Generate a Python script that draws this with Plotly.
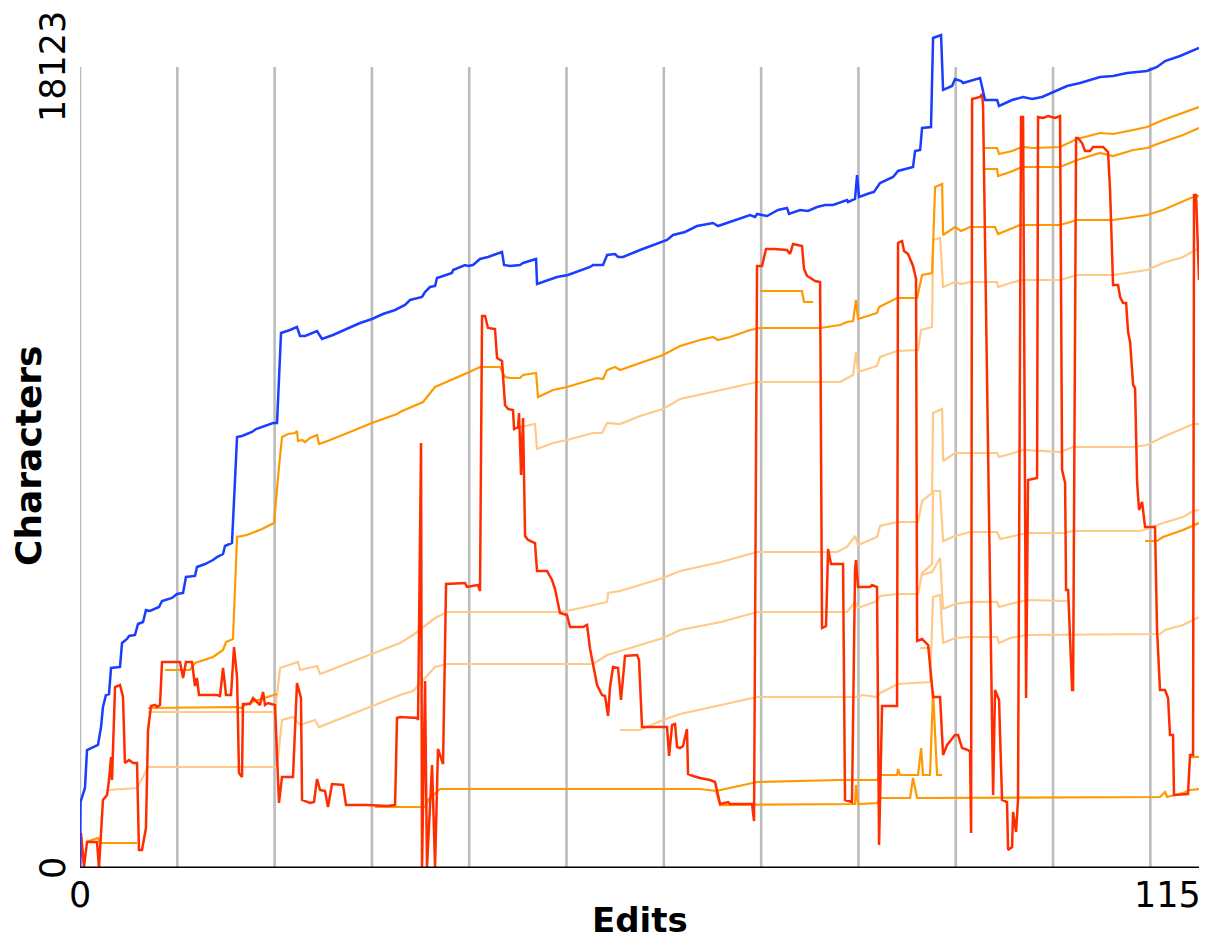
import plotly.graph_objects as go

# ---- data: (edit number, characters) ----
total_chars = [
    (0, 0), (0.05, 1493), (0.51, 1810), (0.72, 2670), (1.85, 2783), (2.16, 3190), (2.36, 3643),
    (2.67, 3914), (2.98, 3937), (3.19, 4525), (4.11, 4548), (4.32, 5091), (4.83, 5181), (5.04, 5249),
    (5.65, 5272), (5.96, 5521), (6.48, 5566), (6.78, 5837), (7.19, 5815), (8.12, 5905), (8.43, 6041),
    (9.46, 6109), (9.97, 6199), (10.59, 6222), (10.89, 6584), (11.82, 6607), (12.02, 6810), (12.85, 6878),
    (13.67, 6968), (14.08, 7036), (14.70, 7104), (14.90, 7285), (15.62, 7353), (16.14, 9751), (16.65, 9774),
    (17.68, 9865), (18.09, 9932), (19.01, 10000), (19.84, 10068), (20.25, 10068), (20.66, 12104),
    (21.58, 12172), (22.30, 12240), (22.61, 12037), (23.13, 12037), (24.36, 12150), (24.87, 11969),
    (26.00, 12059), (27.44, 12195), (28.78, 12330), (30.01, 12421), (31.14, 12534), (32.38, 12625),
    (33.40, 12738), (33.92, 12851), (35.15, 12919), (35.46, 13032), (35.97, 13145), (36.49, 13168),
    (36.69, 13349), (37.31, 13394), (38.23, 13462), (38.34, 13530), (39.57, 13643), (39.88, 13621),
    (40.39, 13643), (41.11, 13779), (41.93, 13824), (43.37, 13937), (43.58, 13643), (44.20, 13621),
    (45.22, 13643), (45.53, 13688), (46.87, 13779), (46.97, 13213), (47.59, 13258), (49.03, 13371),
    (50.15, 13417), (51.60, 13530), (52.42, 13598), (52.73, 13643), (53.75, 13643), (54.17, 13869),
    (54.99, 13892), (55.30, 13824), (55.81, 13824), (57.56, 13982), (59.61, 14141), (60.33, 14209),
    (60.95, 14322), (62.18, 14390), (63.41, 14525), (65.06, 14593), (65.57, 14525), (66.81, 14616),
    (67.63, 14684), (68.86, 14774), (69.37, 14729), (69.58, 14797), (70.61, 14752), (71.74, 14887),
    (72.66, 14933), (72.87, 14797), (74.00, 14887), (74.82, 14865), (75.75, 14955), (76.57, 15000),
    (77.39, 15000), (78.83, 15114), (78.93, 15068), (79.65, 15137), (79.86, 15679), (80.06, 15182),
    (81.19, 15272), (81.60, 15295), (82.22, 15498), (83.56, 15634), (84.07, 15770), (85.00, 15815),
    (85.61, 15860), (85.82, 16223), (86.34, 16245), (86.54, 16743), (87.46, 16765), (87.67, 18779),
    (88.49, 18846), (88.70, 17603), (89.62, 17693), (89.93, 17851), (90.55, 17806), (90.75, 17761),
    (91.68, 17829), (92.50, 17874), (93.01, 17376), (94.25, 17376), (94.45, 17240), (95.79, 17376),
    (96.92, 17444), (97.85, 17398), (98.87, 17444), (100.00, 17557), (101.44, 17693), (102.78, 17761),
    (104.83, 17896), (106.17, 17919), (107.61, 17987), (109.66, 18032), (110.69, 18123), (111.51, 18258),
    (113.05, 18372), (115.00, 18553),
]

main_author = [
    (0, 0), (0.10, 792), (0.41, 23), (0.72, 588), (1.75, 588), (1.95, 0), (2.36, 1539), (2.78, 1652),
    (2.98, 1991), (3.19, 2511), (3.29, 1991), (3.60, 4095), (4.11, 4140), (4.42, 3869), (4.62, 2376),
    (5.04, 2444), (5.45, 2376), (5.86, 2376), (6.06, 407), (6.37, 407), (6.78, 905), (6.99, 3122),
    (7.30, 3665), (7.71, 3688), (7.91, 3643), (8.22, 3688), (8.43, 4661), (10.28, 4661), (10.59, 4299),
    (10.89, 4661), (11.51, 4661), (11.82, 4118), (12.02, 4299), (12.23, 3914), (14.08, 3914),
    (14.39, 3892), (14.70, 4525), (15.01, 3914), (15.52, 3914), (15.83, 5000), (16.14, 4321),
    (16.34, 2149), (16.65, 2059), (16.75, 3711), (17.47, 3711), (17.78, 3846), (18.50, 3688),
    (18.81, 3982), (19.01, 3688), (19.32, 3733), (20.04, 3688), (20.35, 2149), (20.45, 1471),
    (20.76, 2059), (21.89, 2059), (22.30, 4186), (22.71, 3846), (22.82, 1539), (23.64, 1471),
    (24.05, 1493), (24.36, 2014), (24.67, 1765), (25.18, 1742), (25.49, 1380), (25.90, 1901),
    (27.03, 1878), (27.34, 1425), (29.50, 1425), (31.55, 1403), (32.38, 1425), (32.58, 3394),
    (32.89, 3416), (34.64, 3394), (34.74, 3349), (35.05, 9616), (35.15, 23), (35.46, 4231), (35.66, 23),
    (36.18, 2330), (36.49, 23), (36.79, 2692), (37.31, 2353), (37.62, 6426), (39.57, 6448), (39.78, 6358),
    (40.91, 6403), (41.11, 6267), (41.32, 12489), (41.63, 12489), (41.93, 12218), (42.65, 12195),
    (42.86, 11539), (43.37, 11471), (43.68, 10475), (43.99, 10385), (44.50, 10362), (44.61, 9932),
    (45.02, 9978), (45.12, 10294), (45.33, 8892), (45.53, 10181), (45.74, 7512), (46.05, 7421),
    (46.76, 7353), (46.97, 6720), (48.00, 6720), (48.51, 6516), (48.82, 6312), (49.33, 5769),
    (50.05, 5724), (50.36, 5453), (51.70, 5453), (52.11, 5498), (52.42, 4955), (52.73, 4616),
    (53.14, 4140), (53.65, 3914), (53.96, 3892), (54.27, 3439), (54.47, 4095), (54.78, 4548),
    (55.30, 4525), (55.60, 3801), (56.01, 4797), (57.25, 4819), (57.45, 4706), (57.76, 3190),
    (60.33, 3190), (60.54, 2534), (60.85, 3235), (61.15, 3258), (61.36, 2738), (61.67, 2715),
    (61.97, 2760), (62.38, 3145), (62.49, 2127), (63.00, 2082), (63.72, 2036), (64.75, 1991),
    (65.26, 1946), (65.57, 1652), (65.78, 1448), (66.60, 1493), (66.81, 1448), (69.07, 1448),
    (69.27, 1063), (69.58, 13621), (70.09, 13621), (70.50, 14005), (71.43, 14005), (72.66, 13982),
    (72.97, 13892), (73.28, 14118), (74.20, 14073), (74.41, 13552), (74.72, 13394), (75.23, 13326),
    (75.54, 13281), (76.06, 13258), (76.26, 5430), (76.67, 5475), (76.88, 7218), (77.18, 6878),
    (78.42, 6878), (78.62, 1539), (79.34, 1493), (79.65, 6742), (79.75, 6968), (79.96, 6358),
    (81.19, 6358), (81.40, 6403), (81.91, 6358), (82.12, 520), (82.43, 3665), (83.97, 3665),
    (84.07, 14141), (84.48, 14186), (84.69, 13960), (85.10, 13892), (85.61, 13621), (85.92, 13326),
    (86.03, 5136), (86.54, 5181), (87.16, 5046), (87.67, 3869), (88.39, 3869), (88.70, 2557),
    (89.11, 2783), (89.93, 3009), (90.24, 3009), (90.65, 2715), (91.27, 2670), (91.47, 2625),
    (91.58, 792), (91.68, 17398), (92.50, 17444), (92.71, 17512), (92.81, 17218), (93.84, 1652),
    (94.04, 4027), (94.45, 3801), (94.76, 1539), (95.27, 1493), (95.38, 407), (95.79, 475),
    (95.89, 1267), (96.20, 815), (96.40, 1539), (96.71, 16991), (96.92, 16991), (97.23, 3846),
    (97.43, 8779), (98.36, 8824), (98.46, 16991), (98.98, 16969), (99.49, 17014), (100.21, 16969),
    (100.72, 17014), (100.93, 9005), (101.24, 8711), (101.34, 6290), (101.55, 6290), (101.96, 4027),
    (102.06, 4027), (102.37, 16516), (102.57, 16516), (102.98, 16403), (103.29, 16223), (103.80, 16223),
    (104.11, 16313), (105.14, 16313), (105.65, 16200), (105.86, 15340), (106.17, 13190), (106.68, 13190),
    (106.89, 12919), (107.20, 12783), (107.51, 12783), (107.71, 12127), (107.92, 11901), (108.23, 10928),
    (108.43, 10860), (108.64, 8733), (108.84, 8100), (109.15, 8281), (109.46, 7715), (110.48, 7715),
    (110.69, 5385), (110.99, 4027), (111.51, 4027), (111.82, 3846), (112.02, 3009), (112.33, 3009),
    (112.43, 1652), (113.87, 1674), (114.08, 2557), (114.39, 2557), (114.49, 15227), (114.70, 15227),
    (115.00, 13304),
]

# dark orange section boundaries
sect_a = [(0.62, 588), (1.85, 679), (2.06, 566), (5.86, 566)]
sect_b = [(6.99, 3620), (16.14, 3643), (16.55, 3620), (16.96, 3688), (18.29, 3801), (20.25, 3937)]
sect_c = [
    (8.74, 4480), (11.31, 4480), (11.82, 4638), (13.67, 4774), (14.70, 4932), (15.01, 5113), (15.72, 5181),
    (16.14, 7489), (17.16, 7534), (18.71, 7670), (19.94, 7806), (20.25, 8711), (20.45, 9073), (20.76, 9751),
    (21.38, 9820), (22.10, 9842), (22.30, 9887), (22.40, 9661), (22.82, 9684), (23.13, 9638), (23.64, 9729),
    (24.36, 9797), (24.56, 9593), (25.70, 9684), (27.44, 9842), (28.78, 9955), (30.01, 10068),
    (31.14, 10159), (32.58, 10272), (32.89, 10317), (35.25, 10543), (36.49, 10883), (37.72, 10996),
    (39.78, 11199), (41.11, 11335), (43.17, 11335), (43.68, 11109), (44.20, 11086), (45.22, 11086),
    (45.53, 11154), (46.87, 11199), (47.07, 10656), (48.61, 10815), (50.05, 10883), (53.14, 11086),
    (53.75, 11064), (54.17, 11267), (54.99, 11335), (55.50, 11267), (57.56, 11426), (59.92, 11607),
    (61.67, 11810), (63.72, 11946), (65.06, 12014), (65.57, 11946), (66.81, 12014), (68.86, 12173),
    (69.89, 12218), (76.06, 12218), (78.11, 12285), (78.83, 12353), (79.45, 12376), (79.75, 12851),
    (79.96, 12421), (81.91, 12557), (82.12, 12693), (83.97, 12896), (86.03, 12896), (86.54, 13417),
    (87.57, 13462), (87.88, 15408), (88.60, 15476), (88.70, 14322), (89.93, 14503), (90.55, 14412),
    (91.47, 14503), (94.04, 14503), (94.35, 14344), (95.59, 14457), (96.61, 14548), (100.72, 14548),
    (102.47, 14661), (106.17, 14661), (107.61, 14706), (109.66, 14774), (111.30, 14888), (114.39, 15182),
    (115.00, 15204),
]
sect_d = [
    (93.01, 16290), (94.25, 16290), (94.45, 16155), (95.79, 16223), (96.82, 16313), (97.95, 16290),
    (100.72, 16313), (102.47, 16494), (104.83, 16629), (106.17, 16607), (108.23, 16697), (109.66, 16765),
    (111.30, 16924), (113.36, 17082), (115.00, 17218),
]
sect_e = [
    (93.01, 15815), (94.25, 15815), (94.35, 15656), (95.59, 15747), (96.82, 15860), (100.72, 15860),
    (102.47, 16019), (104.83, 16177), (106.17, 16109), (108.23, 16245), (109.66, 16290), (110.99, 16403),
    (113.36, 16584), (115.00, 16743),
]
sect_f = [
    (30.32, 1380), (35.46, 1380), (35.77, 1539), (37.00, 1787), (63.72, 1787), (65.37, 1742),
    (69.58, 1946), (78.11, 1991), (81.91, 1991), (82.22, 2104), (83.97, 2104), (84.07, 2240),
    (84.27, 2104), (86.13, 2104), (86.44, 2715), (86.64, 2104), (87.36, 2104), (87.67, 4005),
    (88.08, 2104), (88.60, 2104),
]
sect_g = [
    (65.37, 1742), (65.78, 1425), (79.65, 1448), (79.75, 1878), (79.96, 1448), (81.91, 1471),
    (82.22, 1584), (85.31, 1584), (85.61, 2036), (86.03, 1584), (110.99, 1606), (111.51, 1720),
    (111.72, 1606), (113.36, 1697), (114.08, 1765), (115.00, 1787),
]
sect_h = [(114.08, 2511), (115.00, 2511)]
sect_i = [(109.46, 7398), (110.69, 7398), (111.30, 7489), (113.36, 7647), (115.00, 7806)]
sect_j = [(69.89, 13055), (74.20, 13055), (74.41, 12806), (75.34, 12806)]

# light orange section boundaries
para_a = [
    (44.71, 9955), (46.76, 10045), (46.97, 9480), (48.61, 9616), (50.05, 9684), (52.73, 9842),
    (53.65, 9842), (54.17, 10068), (55.50, 10045), (57.56, 10226), (59.92, 10385), (61.67, 10611),
    (65.88, 10815), (69.58, 10996), (78.11, 10996), (79.45, 11154), (79.75, 11675), (79.96, 11222),
    (81.91, 11358), (82.22, 11562), (83.97, 11697), (86.13, 11720), (86.44, 12173), (87.57, 12240),
    (87.67, 14209), (88.39, 14254), (88.70, 13145), (89.62, 13236), (89.93, 13258), (90.55, 13213),
    (91.47, 13258), (94.25, 13258), (94.35, 13145), (95.59, 13236), (96.82, 13304), (100.72, 13304),
    (102.47, 13417), (106.17, 13417), (108.23, 13485), (109.66, 13530), (111.30, 13688), (113.36, 13824),
    (115.00, 14028),
]
para_b = [
    (6.99, 3530), (20.04, 3530), (20.56, 4525), (22.40, 4661), (22.61, 4480), (24.36, 4570),
    (24.67, 4389), (32.89, 5091), (34.23, 5272), (36.49, 5656), (37.72, 5792), (49.03, 5792),
    (50.05, 5815), (52.73, 5950), (54.17, 6019), (54.27, 6222), (55.50, 6267), (59.92, 6561),
    (61.67, 6720), (65.88, 6923), (69.58, 7150), (77.80, 7150), (78.83, 7263), (79.65, 7512),
    (79.96, 7308), (81.91, 7489), (82.22, 7738), (83.97, 7828), (86.13, 7828), (86.54, 8304),
    (87.57, 8484), (87.67, 10294), (88.60, 10385), (88.70, 9209), (89.93, 9389), (94.25, 9389),
    (94.45, 9299), (95.59, 9367), (96.92, 9458), (100.72, 9412), (102.06, 9525), (108.23, 9525),
    (109.66, 9570), (111.30, 9751), (114.39, 10045), (115.00, 10045),
]
para_c = [
    (2.88, 1765), (5.86, 1810), (6.17, 1946), (6.48, 2059), (6.99, 2285), (20.25, 2285), (20.76, 3349),
    (21.89, 3416), (22.61, 3235), (24.15, 3349), (24.56, 3190), (32.89, 3914), (34.23, 4005),
    (36.49, 4548), (37.72, 4616), (52.73, 4616), (54.17, 4819), (55.50, 4910), (59.92, 5204),
    (61.67, 5385), (65.88, 5566), (69.58, 5792), (78.83, 5792), (79.65, 6019), (79.96, 5883),
    (81.91, 6041), (82.22, 6154), (83.97, 6199), (86.13, 6199), (86.54, 6674), (87.57, 6878),
    (87.67, 8530), (88.39, 8530), (88.70, 7398), (89.93, 7512), (91.47, 7602), (94.25, 7602),
    (94.56, 7444), (95.59, 7489), (97.33, 7579), (101.03, 7579), (102.06, 7625), (108.95, 7625),
    (109.66, 7670), (111.30, 7806), (113.36, 7941), (114.39, 8077), (115.00, 8100),
]
para_d = [
    (55.50, 3122), (57.56, 3122), (59.92, 3349), (61.67, 3484), (65.88, 3688), (69.58, 3869),
    (79.86, 3869), (80.47, 3914), (81.91, 3869), (82.22, 3959), (83.25, 4073), (83.97, 4163),
    (87.36, 4208), (87.67, 6131), (88.39, 6177), (88.70, 5091), (89.93, 5204), (91.47, 5226),
    (94.25, 5226), (94.45, 5091), (95.59, 5204), (97.33, 5272), (110.99, 5294), (111.51, 5385),
    (113.36, 5498), (115.00, 5679),
]
para_e = [
    (86.44, 6629), (87.57, 6697), (88.39, 7014), (88.70, 5860), (89.93, 5973), (91.47, 6019),
    (94.25, 6019), (94.45, 5905), (95.59, 5973), (97.33, 6064), (101.44, 6041),
]
para_f = [(86.34, 4978), (87.57, 4978)]

x_max = 115
y_top_tick = 18123
grid_edits = list(range(0, 111, 10))

BLUE = "#1a3dff"
RED = "#ff2e00"
DARK = "#ff9900"
LIGHT = "#ffc987"
FONT = "DejaVu Sans"


def line_trace(points, color, width):
    xs, ys = zip(*points)
    return go.Scatter(x=list(xs), y=list(ys), mode="lines",
                      line=dict(color=color, width=width),
                      hoverinfo="skip", showlegend=False)


fig = go.Figure()
for s in (para_a, para_b, para_c, para_d, para_e, para_f):
    fig.add_trace(line_trace(s, LIGHT, 2.2))
for s in (sect_a, sect_b, sect_c, sect_d, sect_e, sect_f, sect_g, sect_h, sect_i, sect_j):
    fig.add_trace(line_trace(s, DARK, 2.2))
fig.add_trace(line_trace(main_author, RED, 2.5))
fig.add_trace(line_trace(total_chars, BLUE, 2.5))

# vertical grid lines and the baseline
shapes = [dict(type="line", xref="x", yref="y", x0=g, x1=g, y0=0, y1=y_top_tick,
               line=dict(color="#bcbcbc", width=2.6), layer="below") for g in grid_edits]
shapes.append(dict(type="line", xref="x", yref="y", x0=0, x1=x_max, y0=0, y1=0,
                   line=dict(color="black", width=3), layer="above"))

tick_font = dict(family=FONT, size=35, color="black")
annotations = [
    dict(x=0, y=0, xref="x", yref="y", text="0", showarrow=False, font=tick_font,
         xanchor="center", yanchor="middle", yshift=-27),
    dict(x=x_max, y=0, xref="x", yref="y", text=str(x_max), showarrow=False, font=tick_font,
         xanchor="right", yanchor="middle", yshift=-27, xshift=4),
    dict(x=0, y=0, xref="x", yref="y", text="0", showarrow=False, font=tick_font, textangle=-90,
         xanchor="center", yanchor="middle", xshift=-27),
    dict(x=0, y=y_top_tick, xref="x", yref="y", text=str(y_top_tick), showarrow=False, font=tick_font,
         textangle=-90, xanchor="center", yanchor="middle", xshift=-27),
    dict(x=0.5, y=-0.061, xref="paper", yref="paper", text="<b>Edits</b>", showarrow=False,
         font=dict(family=FONT, size=34, color="black"), xanchor="center", yanchor="middle"),
    dict(x=-0.0465, y=0.487, xref="paper", yref="paper", text="<b>Characters</b>", showarrow=False,
         font=dict(family=FONT, size=36, color="black"), textangle=-90,
         xanchor="center", yanchor="middle"),
]

fig.update_layout(
    width=1205, height=949,
    margin=dict(l=80, r=6, t=20, b=81),
    paper_bgcolor="white", plot_bgcolor="white",
    xaxis=dict(range=[0, x_max], showgrid=False, zeroline=False, showticklabels=False,
               showline=False, ticks=""),
    yaxis=dict(range=[0, 19186], showgrid=False, zeroline=False, showticklabels=False,
               showline=False, ticks=""),
    shapes=shapes,
    annotations=annotations,
)

fig.write_html("out.html")
